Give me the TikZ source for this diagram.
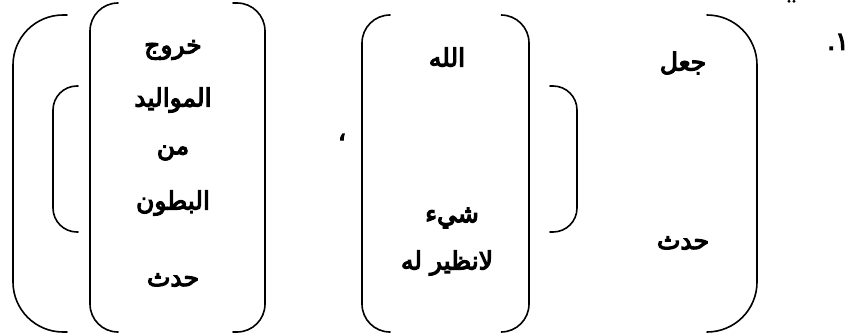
\documentclass[tikz,border=0pt]{standalone}
\usepackage{fontspec}
\TeXXeTstate=1
\newfontfamily\arabicfont[Script=Arabic,FakeBold=4.5]{DejaVu Sans}
\begin{document}
\begin{tikzpicture}[x=1pt,y=-1pt,
  brk/.style={line width=1.6pt,line cap=round},
  lbl/.style={font=\arabicfont\fontsize{25}{28}\selectfont,inner sep=0pt,anchor=center}]
\useasboundingbox (0,0) rectangle (853,334);
% brackets
\draw[brk,rounded corners=50] (67,15) -- (13,15) -- (13,332) -- (67,332);
\draw[brk,rounded corners=24] (78,86) -- (53,86) -- (53,232) -- (78,232);
\draw[brk,rounded corners=28] (118,3) -- (90,3) -- (90,332) -- (118,332);
\draw[brk,rounded corners=28] (233,3) -- (265,3) -- (265,332) -- (233,332);
\draw[brk,rounded corners=28] (390,15) -- (362,15) -- (362,332) -- (390,332);
\draw[brk,rounded corners=28] (502,15) -- (529,15) -- (529,332) -- (502,332);
\draw[brk,rounded corners=24] (550,86) -- (577,86) -- (577,232) -- (550,232);
\draw[brk,rounded corners=50] (707,15) -- (757,15) -- (757,332) -- (707,332);
% cut-off dots at top
\fill (789,1.2) circle (1.6);
\fill (794,1.2) circle (1.6);
% texts
\node[lbl] (t1) at (173,50) {\beginR خروج\endR};
\node[lbl] (t2) at (173,100) {\beginR المواليد\endR};
\node[lbl] (t3) at (173,153) {\beginR من\endR};
\node[lbl] (t4) at (173,203) {\beginR البطون\endR};
\node[lbl] (t5) at (173,280) {\beginR حدث\endR};
\node[lbl] (c1) at (342,137) {\beginR ،\endR};
\node[lbl] (m1) at (447,57) {\beginR الله\endR};
\node[lbl] (m2) at (452,218) {\beginR شيء\endR};
\node[lbl] (m3) at (447,263) {\beginR لانظير له\endR};
\node[lbl] (r1) at (683,63) {\beginR جعل\endR};
\node[lbl] (r2) at (683,243) {\beginR حدث\endR};
\node[lbl] (num) at (838,42) {\beginR ١.\endR};
\end{tikzpicture}
\end{document}
